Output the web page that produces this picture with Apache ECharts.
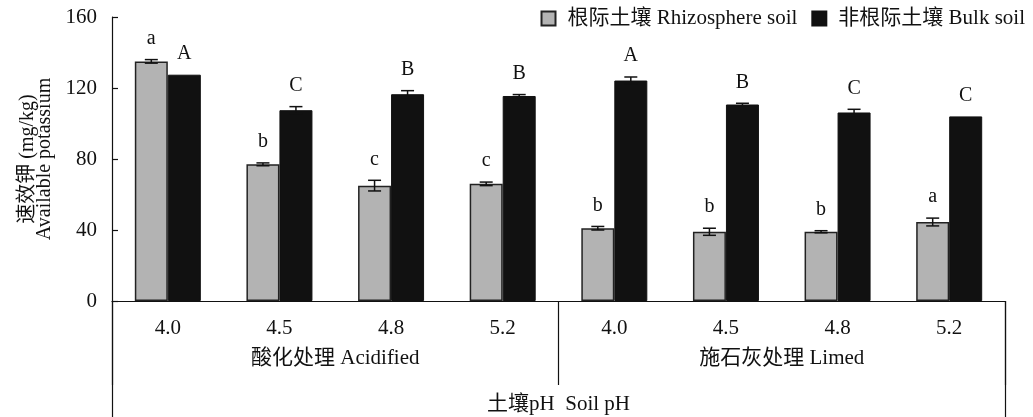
<!DOCTYPE html>
<html>
<head>
<meta charset="utf-8">
<script src="https://cdn.jsdelivr.net/npm/echarts@6/dist/echarts.min.js"></script>
<style>
  html, body { margin: 0; padding: 0; background: #fff; }
  #chart { width: 1033px; height: 417px; }
</style>
</head>
<body>
<div id="chart"></div>
<script>
// Soil pH treatments (category axis) and their treatment groups
const categories = ['4.0', '4.5', '4.8', '5.2', '4.0', '4.5', '4.8', '5.2'];
const groups = ['酸化处理 Acidified', '施石灰处理 Limed'];
const axisTitle = ['土壤pH  Soil pH'];

// Available potassium (mg/kg), mean and error, with significance letters
const rhizoName = '根际土壤 Rhizosphere soil';
const rhizo = [135, 77, 65, 66, 41, 39, 39, 44.5];
const rhizoErr = [1, 0.8, 3, 1, 1, 2, 0.6, 2.2];
const rhizoLetters = ['a', 'b', 'c', 'c', 'b', 'b', 'b', 'a'];

const bulkName = '非根际土壤 Bulk soil';
const bulk = [127.5, 107.5, 116.5, 115.5, 124.2, 110.7, 106.2, 104];
const bulkErr = [0, 2, 2, 0.8, 2, 0.7, 1.8, 0];
const bulkLetters = ['A', 'C', 'B', 'B', 'A', 'B', 'C', 'C'];

const FONT = "'Liberation Serif', 'Noto Sans CJK SC', serif";
const BAR_W = 33;
const INK = '#111';

// Error bars (mean ± error) with significance letters above each bar
function errorSeries(values, errs, letters, offset) {
  return {
    type: 'custom',
    xAxisIndex: 0,
    z: 5,
    data: values.map((v, i) => [i, v, errs[i]]),
    encode: { x: 0, y: 1 },
    renderItem: function (params, api) {
      const i = api.value(0), v = api.value(1), e = api.value(2);
      const c = api.coord([i, v]);
      const cx = c[0] + offset;
      const top = api.coord([i, v + e])[1];
      const bot = api.coord([i, v - e])[1];
      const half = 6.5;
      const lineStyle = { stroke: INK, lineWidth: 1.5 };
      const children = [];
      if (e > 0) {
        children.push(
          { type: 'line', shape: { x1: cx, y1: top, x2: cx, y2: bot }, style: lineStyle },
          { type: 'line', shape: { x1: cx - half, y1: top, x2: cx + half, y2: top }, style: lineStyle },
          { type: 'line', shape: { x1: cx - half, y1: bot, x2: cx + half, y2: bot }, style: lineStyle }
        );
      }
      children.push({
        type: 'text',
        style: {
          x: cx, y: top - 21,
          text: letters[params.dataIndex],
          fill: INK,
          font: '20px ' + FONT,
          align: 'center',
          verticalAlign: 'middle'
        }
      });
      return { type: 'group', children: children };
    }
  };
}

const chart = echarts.init(document.getElementById('chart'), null, { renderer: 'canvas' });

chart.setOption({
  backgroundColor: '#fff',
  animation: false,
  textStyle: { fontFamily: FONT, color: INK },
  legend: {
    right: 3,
    top: 3,
    icon: 'rect',
    itemWidth: 14,
    itemHeight: 14,
    itemGap: 14,
    textStyle: { fontFamily: FONT, fontSize: 21, color: INK, padding: [0, 0, 0, 7] },
    data: [rhizoName, bulkName]
  },
  grid: { left: 112, right: 28, top: 17, bottom: 116, containLabel: false, outerBoundsMode: 'none' },
  xAxis: [
    {
      type: 'category',
      data: categories,
      position: 'bottom',
      axisLine: { show: true, lineStyle: { color: INK, width: 1.2 } },
      axisTick: { show: false },
      axisLabel: { margin: 17, fontSize: 21, color: INK, fontFamily: FONT }
    },
    {
      type: 'category',
      data: groups,
      position: 'bottom',
      offset: 0,
      axisLine: { show: false },
      axisTick: { show: true, length: 84, lineStyle: { color: INK, width: 1.2 } },
      axisLabel: { margin: 47, fontSize: 21, color: INK, fontFamily: FONT }
    },
    {
      type: 'category',
      data: axisTitle,
      position: 'bottom',
      offset: 0,
      axisLine: { show: false },
      axisTick: { show: true, length: 120, lineStyle: { color: INK, width: 1.2 } },
      axisLabel: { margin: 93, fontSize: 21, color: INK, fontFamily: FONT }
    }
  ],
  yAxis: {
    type: 'value',
    min: 0,
    max: 160,
    interval: 40,
    name: '速效钾 (mg/kg)\nAvailable potassium',
    nameLocation: 'middle',
    nameRotate: 90,
    nameGap: 59,
    nameTextStyle: { fontSize: 20, lineHeight: 17, color: INK, fontFamily: FONT },
    axisLine: { show: true, lineStyle: { color: INK, width: 1.2 } },
    axisTick: { show: true, inside: true, length: 6, lineStyle: { color: INK, width: 1.2 } },
    axisLabel: { margin: 15, fontSize: 21, color: INK, fontFamily: FONT },
    splitLine: { show: false }
  },
  series: [
    {
      name: rhizoName,
      type: 'bar',
      xAxisIndex: 0,
      data: rhizo,
      barWidth: BAR_W,
      barGap: '0%',
      itemStyle: { color: '#b3b3b3', borderColor: '#222', borderWidth: 1.5 }
    },
    {
      name: bulkName,
      type: 'bar',
      xAxisIndex: 0,
      data: bulk,
      barWidth: BAR_W,
      barGap: '0%',
      itemStyle: { color: INK, borderColor: INK, borderWidth: 1 }
    },
    errorSeries(rhizo, rhizoErr, rhizoLetters, -BAR_W / 2),
    errorSeries(bulk, bulkErr, bulkLetters, BAR_W / 2)
  ]
});
</script>
</body>
</html>
